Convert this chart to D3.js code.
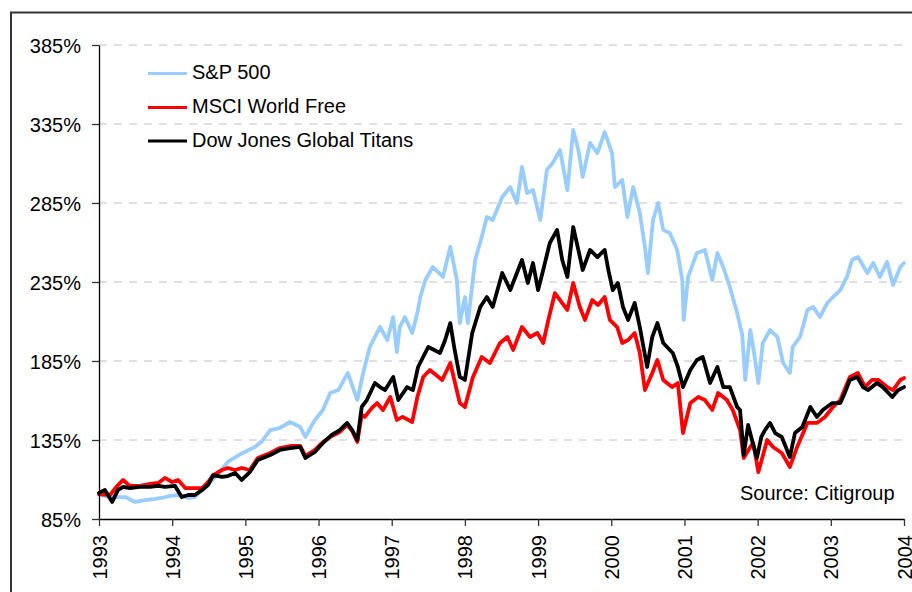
<!DOCTYPE html>
<html>
<head>
<meta charset="utf-8">
<script src="https://cdn.jsdelivr.net/npm/d3@7"></script>
<style>
  html, body { margin: 0; padding: 0; background: #fff; }
  svg { display: block; }
  text { font-family: "Liberation Sans", Arial, sans-serif; }
</style>
</head>
<body>
<svg id="chart" width="912" height="592"></svg>
<script>
// ---- data (decimal year, index %) ----
const seriesNames = ["S&P 500", "MSCI World Free", "Dow Jones Global Titans"];
const seriesColors = ["#99ccff", "#ff0000", "#000000"];
const yTicks = [85, 135, 185, 235, 285, 335, 385];
const xYears = [1993, 1994, 1995, 1996, 1997, 1998, 1999, 2000, 2001, 2002, 2003, 2004];
const sourceText = "Source: Citigroup";

const sp500 = [
  [1993.00,100.2],[1993.18,98.9],[1993.36,98.9],[1993.49,95.8],[1993.63,97.0],[1993.77,97.7],
  [1993.86,98.3],[1993.97,99.6],[1994.11,100.2],[1994.22,98.3],[1994.31,98.9],[1994.45,105.3],
  [1994.59,111.6],[1994.76,121.1],[1994.95,126.5],[1995.13,130.6],[1995.23,134.4],[1995.34,141.3],
  [1995.47,142.6],[1995.61,146.4],[1995.75,143.2],[1995.82,136.9],[1995.95,147.7],[1996.06,154.0],
  [1996.16,164.7],[1996.27,166.6],[1996.40,177.4],[1996.53,160.3],[1996.61,177.4],[1996.70,193.9],
  [1996.84,206.5],[1996.94,198.3],[1997.02,212.8],[1997.07,190.7],[1997.11,206.5],[1997.18,212.8],
  [1997.28,202.7],[1997.35,215.4],[1997.39,225.5],[1997.46,236.3],[1997.56,244.5],[1997.70,238.2],
  [1997.80,257.2],[1997.89,236.3],[1997.93,209.0],[1998.00,225.5],[1998.04,209.0],[1998.14,248.9],
  [1998.23,263.5],[1998.30,276.1],[1998.38,274.2],[1998.51,288.8],[1998.62,295.1],[1998.71,285.0],
  [1998.78,307.8],[1998.85,291.3],[1998.93,293.2],[1999.03,274.2],[1999.12,305.9],[1999.20,310.3],
  [1999.30,318.5],[1999.40,293.2],[1999.48,331.2],[1999.55,318.5],[1999.61,301.5],[1999.71,323.0],
  [1999.81,316.6],[1999.91,329.9],[2000.01,316.6],[2000.05,295.1],[2000.15,299.6],[2000.22,276.1],
  [2000.30,295.1],[2000.39,278.7],[2000.46,257.2],[2000.50,240.7],[2000.57,274.2],[2000.64,285.0],
  [2000.71,267.9],[2000.80,266.0],[2000.90,255.3],[2000.97,236.3],[2000.99,211.0],[2001.05,238.2],
  [2001.17,253.4],[2001.28,255.3],[2001.38,236.3],[2001.45,253.4],[2001.53,244.5],[2001.62,231.8],
  [2001.72,215.4],[2001.79,201.5],[2001.83,173.0],[2001.90,204.6],[2001.96,187.5],[2002.01,171.1],
  [2002.07,196.4],[2002.17,204.6],[2002.27,200.2],[2002.35,183.7],[2002.44,177.4],[2002.48,193.9],
  [2002.58,200.2],[2002.68,217.3],[2002.76,219.2],[2002.85,212.8],[2002.95,221.7],[2003.03,225.5],
  [2003.13,229.9],[2003.22,238.2],[2003.29,248.9],[2003.37,250.8],[2003.50,240.7],[2003.58,247.0],
  [2003.67,238.2],[2003.77,247.7],[2003.85,233.1],[2003.95,244.5],[2004.00,247.0]
];

const msciWorld = [
  [1993.00,100.8],[1993.15,100.2],[1993.26,106.5],[1993.33,109.7],[1993.42,105.9],[1993.56,105.9],
  [1993.70,107.2],[1993.81,107.8],[1993.90,111.0],[1994.00,108.4],[1994.08,109.7],[1994.18,104.6],
  [1994.31,104.6],[1994.41,104.6],[1994.49,108.4],[1994.56,112.8],[1994.68,116.0],[1994.76,117.3],
  [1994.86,116.0],[1994.95,117.3],[1995.06,116.0],[1995.17,123.6],[1995.34,126.8],[1995.47,129.9],
  [1995.61,131.2],[1995.75,131.2],[1995.82,124.9],[1995.95,128.7],[1996.06,133.7],[1996.18,137.5],
  [1996.29,140.1],[1996.39,144.5],[1996.46,140.7],[1996.53,133.7],[1996.59,150.8],[1996.63,149.6],
  [1996.73,155.3],[1996.80,158.4],[1996.88,154.0],[1996.98,162.2],[1997.07,147.7],[1997.15,149.6],
  [1997.28,146.4],[1997.35,162.2],[1997.43,174.9],[1997.52,179.3],[1997.69,173.0],[1997.80,183.7],
  [1997.93,158.4],[1998.00,155.9],[1998.11,174.9],[1998.23,187.5],[1998.34,183.7],[1998.48,196.4],
  [1998.58,200.2],[1998.66,192.0],[1998.78,206.5],[1998.89,200.2],[1998.99,202.7],[1999.07,196.4],
  [1999.14,211.0],[1999.23,228.0],[1999.33,221.7],[1999.40,217.3],[1999.48,234.4],[1999.57,219.2],
  [1999.64,211.0],[1999.74,223.6],[1999.82,220.4],[1999.91,225.5],[1999.98,211.0],[2000.08,206.5],
  [2000.15,196.4],[2000.23,198.3],[2000.32,202.7],[2000.39,190.1],[2000.46,166.6],[2000.56,177.4],
  [2000.63,185.6],[2000.71,173.0],[2000.83,168.5],[2000.91,171.1],[2000.98,139.4],[2001.08,158.4],
  [2001.19,162.2],[2001.28,160.3],[2001.38,154.0],[2001.46,164.7],[2001.58,160.3],[2001.66,154.0],
  [2001.76,141.3],[2001.81,123.6],[2001.90,130.6],[2001.94,133.1],[2002.01,114.7],[2002.13,135.0],
  [2002.21,130.6],[2002.33,126.8],[2002.44,117.9],[2002.54,130.6],[2002.68,145.8],[2002.81,145.8],
  [2002.92,149.6],[2003.03,155.9],[2003.13,160.3],[2003.26,174.9],[2003.37,177.4],[2003.47,168.5],
  [2003.56,173.0],[2003.65,173.0],[2003.77,168.5],[2003.85,166.6],[2003.95,173.0],[2004.00,174.2]
];

const djGlobalTitans = [
  [1993.00,101.5],[1993.08,103.4],[1993.18,95.8],[1993.26,103.4],[1993.33,105.3],[1993.42,104.6],
  [1993.56,105.3],[1993.70,105.3],[1993.81,105.9],[1993.90,105.3],[1994.04,105.9],[1994.13,98.9],
  [1994.22,100.2],[1994.31,100.2],[1994.41,103.4],[1994.49,106.5],[1994.56,112.8],[1994.68,111.6],
  [1994.76,112.2],[1994.86,114.1],[1994.95,109.7],[1995.06,114.7],[1995.17,122.3],[1995.34,125.5],
  [1995.47,128.7],[1995.61,129.9],[1995.75,130.6],[1995.82,123.6],[1995.95,127.4],[1996.06,133.1],
  [1996.18,138.2],[1996.29,141.3],[1996.39,145.8],[1996.46,141.3],[1996.53,135.0],[1996.59,155.9],
  [1996.66,160.3],[1996.77,171.1],[1996.84,168.5],[1996.91,166.6],[1997.02,174.9],[1997.09,160.3],
  [1997.21,168.5],[1997.29,166.6],[1997.36,181.2],[1997.50,193.9],[1997.66,190.1],[1997.73,198.3],
  [1997.80,209.0],[1997.86,192.0],[1997.93,174.9],[1998.00,173.0],[1998.10,202.7],[1998.21,219.2],
  [1998.30,225.5],[1998.38,219.2],[1998.51,240.7],[1998.62,229.9],[1998.78,248.9],[1998.86,234.4],
  [1998.93,247.0],[1999.00,229.9],[1999.07,242.6],[1999.16,259.7],[1999.26,267.9],[1999.33,248.9],
  [1999.40,238.2],[1999.48,269.8],[1999.55,255.3],[1999.61,242.6],[1999.71,255.3],[1999.81,250.8],
  [1999.91,255.3],[1999.96,242.6],[2000.02,229.9],[2000.09,234.4],[2000.16,219.2],[2000.23,211.0],
  [2000.32,221.7],[2000.39,206.5],[2000.49,181.2],[2000.56,200.2],[2000.63,209.0],[2000.71,196.4],
  [2000.84,190.1],[2000.91,181.2],[2000.98,168.5],[2001.08,179.3],[2001.17,185.6],[2001.25,187.5],
  [2001.35,171.1],[2001.45,181.2],[2001.53,168.5],[2001.62,168.5],[2001.72,155.9],[2001.76,154.0],
  [2001.81,125.5],[2001.87,144.5],[2001.94,131.8],[2001.99,123.6],[2002.05,136.9],[2002.10,141.3],
  [2002.17,145.8],[2002.24,139.4],[2002.33,136.9],[2002.44,124.2],[2002.51,139.4],[2002.61,143.2],
  [2002.72,155.9],[2002.81,149.6],[2002.89,154.0],[2003.02,158.4],[2003.13,158.4],[2003.19,164.7],
  [2003.26,173.0],[2003.36,174.9],[2003.44,168.5],[2003.51,166.6],[2003.63,171.1],[2003.71,168.5],
  [2003.84,162.2],[2003.92,166.6],[2004.00,168.5]
];

// ---- drawing ----
const svg = d3.select("#chart");
const plot = { left: 99, right: 904, top: 45, bottom: 519 };

const x = d3.scaleLinear().domain([1993, 2004]).range([plot.left, plot.right]);
const y = d3.scaleLinear().domain([85, 385]).range([plot.bottom, plot.top]);

// outer frame
svg.append("rect")
  .attr("x", 11).attr("y", 12.5)
  .attr("width", 1000).attr("height", 1000)
  .attr("fill", "none").attr("stroke", "#333").attr("stroke-width", 2);

// gridlines
svg.append("g").selectAll("line")
  .data(yTicks.filter(v => v !== 85))
  .join("line")
  .attr("x1", plot.left).attr("x2", 906)
  .attr("y1", d => y(d)).attr("y2", d => y(d))
  .attr("stroke", "#c0c0c0").attr("stroke-width", 1)
  .attr("stroke-dasharray", "8,7");

// lines
const line = d3.line().x(d => x(d[0])).y(d => y(d[1])).curve(d3.curveLinear);
const allSeries = [sp500, msciWorld, djGlobalTitans];
svg.append("g").selectAll("path")
  .data(allSeries)
  .join("path")
  .attr("d", d => line(d))
  .attr("fill", "none")
  .attr("stroke", (d, i) => seriesColors[i])
  .attr("stroke-width", 3.8)
  .attr("stroke-linejoin", "round")
  .attr("stroke-linecap", "round");

// y axis
const yAxis = d3.axisLeft(y).tickValues(yTicks).tickFormat(d => d + "%").tickSize(7).tickSizeOuter(0);
const gy = svg.append("g").attr("transform", `translate(${plot.left},0)`).call(yAxis);
gy.select(".domain").attr("stroke", "#000").attr("stroke-width", 1.3);
gy.selectAll(".tick line").attr("stroke", "#333").attr("stroke-width", 1.3);
gy.selectAll(".tick text")
  .attr("x", -18).attr("dy", "0.35em")
  .attr("font-size", 20).attr("fill", "#000")
  .style("font-family", '"Liberation Sans", Arial, sans-serif');

// x axis
const xAxis = d3.axisBottom(x).tickValues(xYears).tickFormat(d => String(d)).tickSize(7).tickSizeOuter(0);
const gx = svg.append("g").attr("transform", `translate(0,${plot.bottom})`).call(xAxis);
gx.select(".domain").attr("stroke", "#000").attr("stroke-width", 1.3);
gx.selectAll(".tick line").attr("stroke", "#333").attr("stroke-width", 1.3);
gx.selectAll(".tick text")
  .attr("transform", "translate(0,16) rotate(-90)")
  .attr("x", 0).attr("y", 0).attr("dy", "0.35em")
  .attr("text-anchor", "end")
  .attr("font-size", 20).attr("fill", "#000")
  .style("font-family", '"Liberation Sans", Arial, sans-serif');

// legend
const legendY = [73.5, 107.5, 141];
const lg = svg.append("g");
seriesNames.forEach((name, i) => {
  lg.append("line")
    .attr("x1", 148).attr("x2", 187)
    .attr("y1", legendY[i]).attr("y2", legendY[i])
    .attr("stroke", seriesColors[i]).attr("stroke-width", 3.2);
  lg.append("text")
    .attr("x", 192).attr("y", legendY[i] + 5.5)
    .attr("font-size", 20).attr("fill", "#000")
    .text(name);
});

// source note
svg.append("text")
  .attr("x", 740).attr("y", 500)
  .attr("font-size", 20).attr("fill", "#000")
  .text(sourceText);
</script>
</body>
</html>
